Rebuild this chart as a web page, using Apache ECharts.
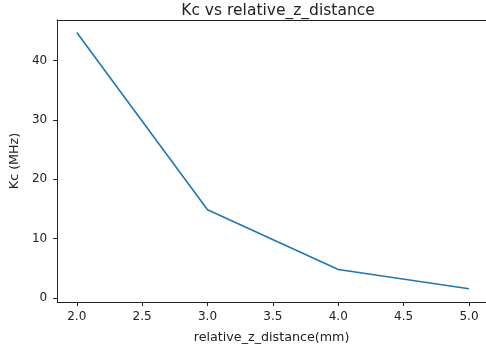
<!DOCTYPE html>
<html>
<head>
<meta charset="utf-8">
<script src="https://cdn.jsdelivr.net/npm/echarts@6/dist/echarts.min.js"></script>
<style>html,body{margin:0;padding:0;background:#fff}#c{width:486px;height:354px}</style>
</head>
<body>
<div id="c"></div>
<script>
const distances = [2.0, 3.0, 4.0, 5.0];
const kcValues = [44.68, 14.88, 4.83, 1.58];
const xTicks = [2.0, 2.5, 3.0, 3.5, 4.0, 4.5, 5.0];
const yTicks = [0, 10, 20, 30, 40];

const chart = echarts.init(document.getElementById('c'), null, {renderer: 'canvas'});
const font = 'DejaVu Sans';
const ink = '#222';
chart.setOption({
  animation: false,
  backgroundColor: '#fff',
  title: {
    text: 'Kc vs relative_z_distance',
    left: 273, top: -2, textAlign: 'center',
    textStyle: {fontFamily: font, fontSize: 15.5, fontWeight: 'normal', color: ink}
  },
  grid: {left: 57, top: 20, right: 0, bottom: 52, show: false},
  xAxis: [{
    type: 'value', min: 1.85, max: 5.13,
    name: 'relative_z_distance(mm)', nameLocation: 'middle', nameGap: 29,
    nameTextStyle: {fontFamily: font, fontSize: 12.7, color: ink},
    axisLine: {show: true, onZero: false, lineStyle: {color: ink, width: 1}},
    axisTick: {show: true, length: 4, customValues: xTicks, lineStyle: {color: ink, width: 1}},
    axisLabel: {customValues: xTicks, margin: 9, fontFamily: font, fontSize: 12, color: ink,
      formatter: v => v.toFixed(1)},
    splitLine: {show: false}
  }, {
    type: 'value', min: 1.85, max: 5.13, position: 'top',
    axisLine: {show: true, onZero: false, lineStyle: {color: ink, width: 1}},
    axisTick: {show: false}, axisLabel: {show: false}, splitLine: {show: false}
  }],
  yAxis: {
    type: 'value', min: -0.65, max: 46.8,
    name: 'Kc (MHz)', nameLocation: 'middle', nameGap: 32, nameRotate: 90,
    nameTextStyle: {fontFamily: font, fontSize: 12.7, color: ink},
    axisLine: {show: true, onZero: false, lineStyle: {color: ink, width: 1}},
    axisTick: {show: true, length: 4, customValues: yTicks, lineStyle: {color: ink, width: 1}},
    axisLabel: {customValues: yTicks, margin: 10, fontFamily: font, fontSize: 12, color: ink},
    splitLine: {show: false}
  },
  series: [{
    type: 'line',
    xAxisIndex: 0,
    data: distances.map((d, i) => [d, kcValues[i]]),
    showSymbol: false,
    lineStyle: {color: '#1f77b4', width: 1.6},
    itemStyle: {color: '#1f77b4'}
  }]
});
</script>
</body>
</html>
